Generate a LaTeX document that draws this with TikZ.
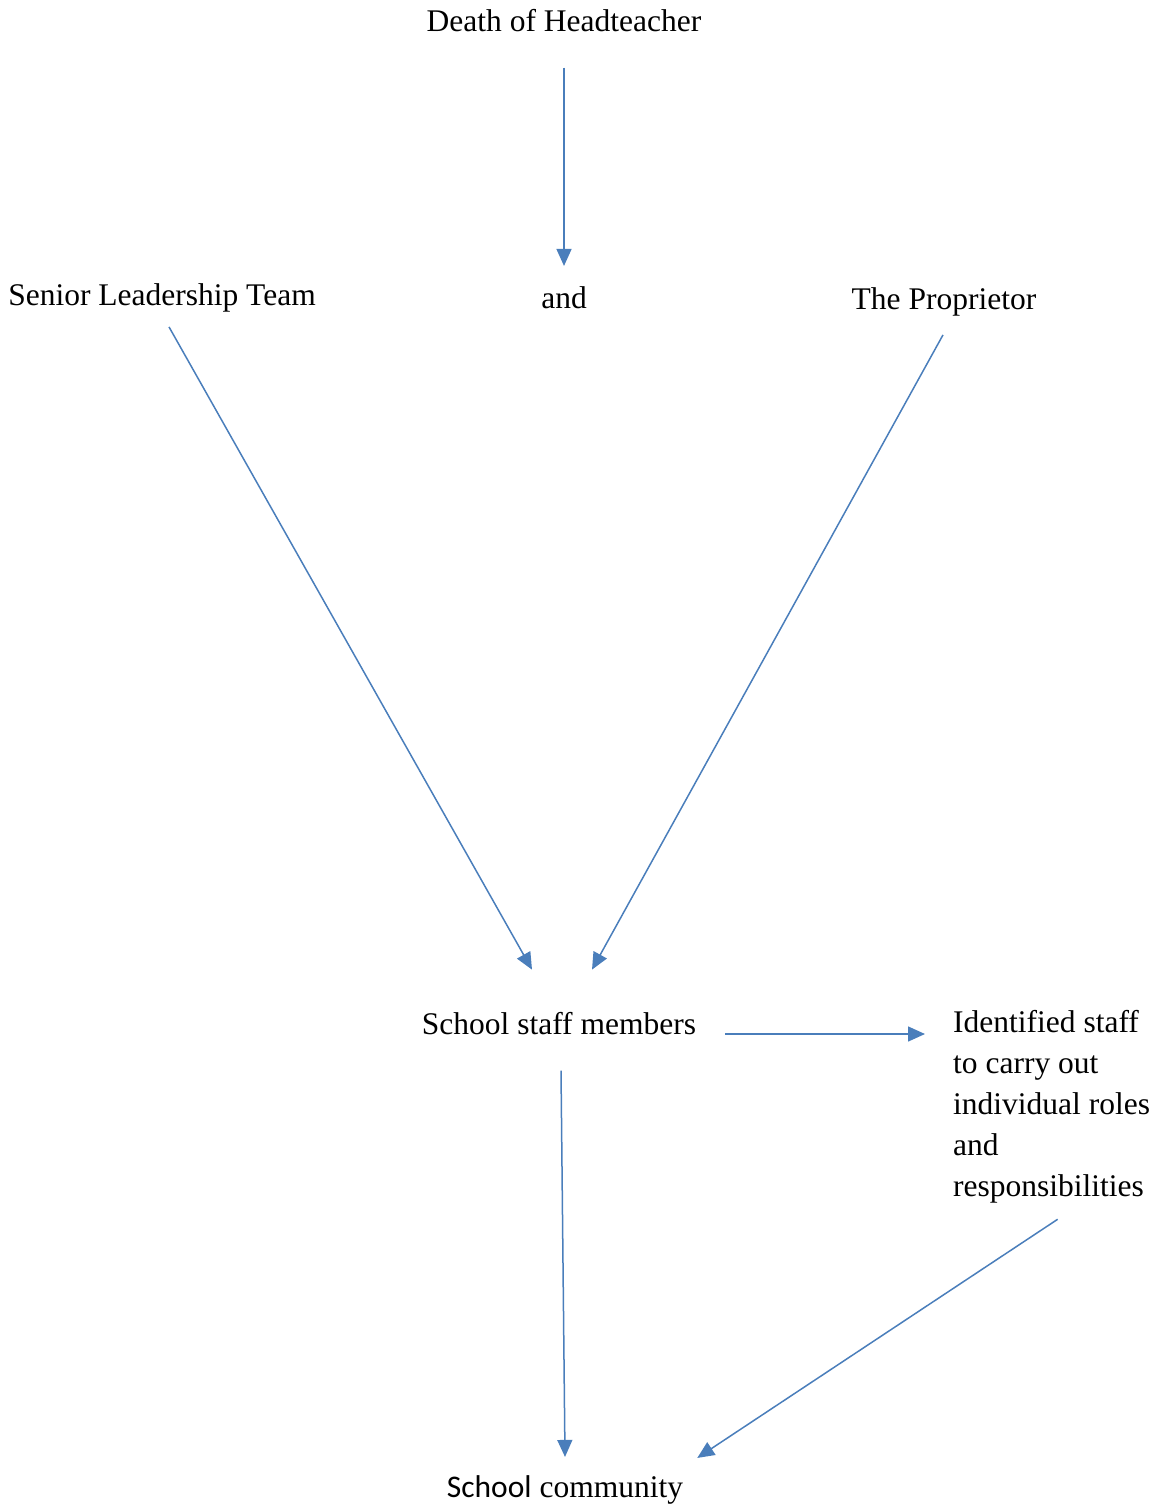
\documentclass[tikz,border=0pt]{standalone}
\usepackage{fontspec}
\setmainfont{Liberation Serif}
\newfontfamily\sansword{Carlito}
\usepackage{tikz}
\usetikzlibrary{arrows.meta}
\definecolor{lineblue}{RGB}{74,126,187}
\tikzstyle{plaintext} = [inner sep=0pt, font=\fontsize{31.5}{41}\selectfont, text=black]
\tikzstyle{arrowline} = [draw=lineblue, line width=1.5pt, -{Triangle[length=17pt,width=15pt]}]
\begin{document}
\begin{tikzpicture}[x=1pt,y=-1pt]
	\useasboundingbox (0,0) rectangle (1152,1506);
	\node[plaintext, anchor=base](death) at (564,32) {Death of Headteacher};
	\node[plaintext, anchor=base](slt) at (162,305) {Senior Leadership Team};
	\node[plaintext, anchor=base](and) at (564,308) {and};
	\node[plaintext, anchor=base](prop) at (944,309) {The Proprietor};
	\node[plaintext, anchor=base](staff) at (559,1034) {School staff members};
	\node[plaintext, anchor=north west, align=left](ident) at (953,1010) {Identified staff\\to carry out\\individual roles\\and\\responsibilities};
	\node[plaintext, anchor=base](comm) at (565,1497) {{\sansword School} community};
	\draw[arrowline, shorten <=35pt, shorten >=20pt] (death.south) -- (and.north);
	\draw[arrowline] ([xshift=7pt,yshift=-15pt]slt.south) -- ([xshift=-27pt,yshift=42pt]staff.north);
	\draw[arrowline] ([xshift=-1pt,yshift=-19pt]prop.south) -- ([xshift=33pt,yshift=42pt]staff.north);
	\draw[arrowline, shorten <=29pt, shorten >=28pt] (staff.base east) -- (staff.base east -| ident.west);
	\draw[arrowline] ([xshift=2pt,yshift=-36pt]staff.south) -- ([yshift=18pt]comm.north);
	\draw[arrowline] ([xshift=6pt,yshift=-16pt]ident.south) -- ([xshift=14pt,yshift=17pt]comm.north east);
\end{tikzpicture}
\end{document}
